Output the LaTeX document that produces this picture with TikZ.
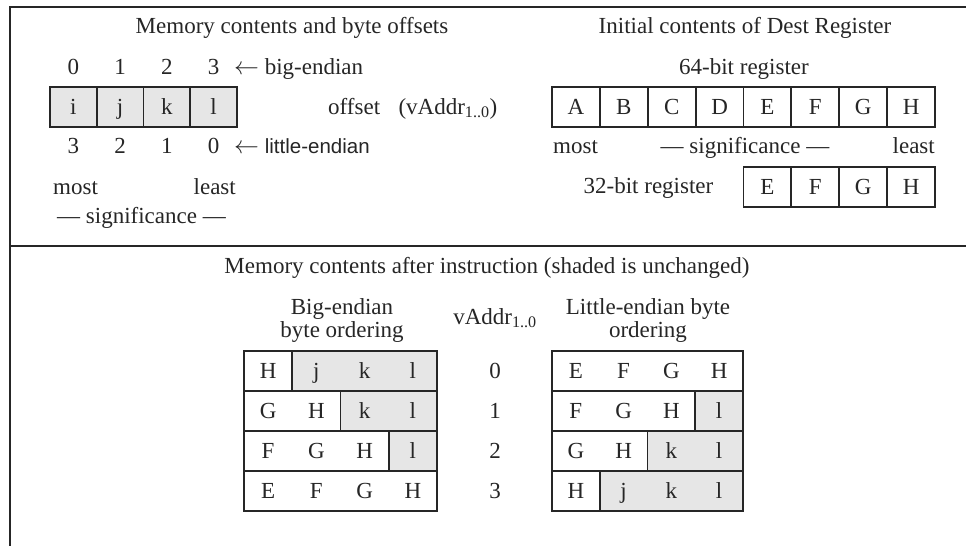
\documentclass[tikz,border=0pt]{standalone}
\usepackage{fontspec}
\setmainfont{Liberation Serif}
\newfontfamily\sansf{Liberation Sans}
\definecolor{linec}{HTML}{262626}
\definecolor{shadegray}{HTML}{E6E6E6}
\tikzset{
  txt/.style={inner sep=0pt, anchor=base},
  cellbox/.style={draw=linec, line width=1.8pt, minimum height=40pt, inner sep=0pt, text height=17.5pt, text depth=2.5pt},
  cellline/.style={draw=linec, line width=1.8pt},
  framel/.style={draw=linec, line width=2.4pt},
}
\begin{document}
\begin{tikzpicture}[x=1pt,y=-1pt, every node/.style={font=\fontsize{23}{24}\selectfont, text=linec}]
\useasboundingbox (0,0) rectangle (966,546);
\fill[white] (0,0) rectangle (966,546);
% frame
\draw[framel] (966,7) -- (10,7) -- (10,546);
\draw[framel] (10,246) -- (966,246);

% ---- top left
\node[txt] (t1) at (292,33) {Memory contents and byte offsets};
\foreach \d/\x in {0/73.4,1/120.1,2/166.9,3/213.6}
  \node[txt] (be\d) at (\x,74) {\d};
\node[txt, anchor=base west] (bel) at (234,74) {$\leftarrow$ big-endian};
\foreach \c/\i in {i/0,j/1,k/2,l/3}
  \node[cellbox, minimum width=46.75pt, fill=shadegray] (m\c) at ({50+46.75*(\i+0.5)},107) {\c};
\node[txt, anchor=base west] (off) at (328,114) {offset\hspace{0.8em}(vAddr\textsubscript{1..0})};
\foreach \d/\x in {3/73.4,2/120.1,1/166.9,0/213.6}
  \node[txt] (le\d) at (\x,153) {\d};
\node[txt, anchor=base west] (lel) at (234,153) {$\leftarrow$ {\sansf\fontsize{20.5}{22}\selectfont little-endian}};
\node[txt, anchor=base west] (mostL) at (53,194) {most};
\node[txt, anchor=base east] (leastL) at (236,194) {least};
\node[txt] (sigL) at (141.5,223) {--- significance ---};

% ---- top right
\node[txt] (t2) at (745,33) {Initial contents of Dest Register};
\node[txt] (r64) at (744,74) {64-bit register};
\foreach \c/\i in {A/0,B/1,C/2,D/3,E/4,F/5,G/6,H/7}
  \node[cellbox, minimum width=47.875pt, fill=white] (R\c) at ({552+47.875*(\i+0.5)},107) {\c};
\node[txt, anchor=base west] (mostR) at (553,153) {most};
\node[txt] (sigR) at (745,153) {--- significance ---};
\node[txt, anchor=base east] (leastR) at (935,153) {least};
\node[txt] (r32) at (648.5,193) {32-bit register};
\foreach \c/\i in {E/4,F/5,G/6,H/7}
  \node[cellbox, minimum width=47.875pt, fill=white] (S\c) at ({552+47.875*(\i+0.5)},187) {\c};

% ---- bottom
\node[txt] (t3) at (487,273) {Memory contents after instruction (shaded is unchanged)};
\node[txt] (bh1) at (342,314) {Big-endian};
\node[txt] (bh2) at (342,337) {byte ordering};
\node[txt] (va) at (495,324) {vAddr\textsubscript{1..0}};
\node[txt] (lh1) at (648,314) {Little-endian byte};
\node[txt] (lh2) at (648,337) {ordering};

% big-endian table
\foreach \r/\s/\a/\b/\c/\d in {0/1/H/j/k/l, 1/2/G/H/k/l, 2/3/F/G/H/l, 3/4/E/F/G/H}{
  \fill[white] (244,{351+40*\r}) rectangle (437,{391+40*\r});
  \fill[shadegray] ({244+48.25*\s},{351+40*\r}) rectangle (437,{391+40*\r});
  \draw[cellline] (244,{351+40*\r}) rectangle (437,{391+40*\r});
  \ifnum\s<4 \draw[cellline] ({244+48.25*\s},{351+40*\r}) -- ++(0,40); \fi
  \node[txt] (B\r-1) at ({244+48.25*0.5},{378+40*\r}) {\a};
  \node[txt] (B\r-2) at ({244+48.25*1.5},{378+40*\r}) {\b};
  \node[txt] (B\r-3) at ({244+48.25*2.5},{378+40*\r}) {\c};
  \node[txt] (B\r-4) at ({244+48.25*3.5},{378+40*\r}) {\d};
  \node[txt] (n\r) at (495,{378+40*\r}) {\r};
}
% little-endian table
\foreach \r/\s/\a/\b/\c/\d in {0/4/E/F/G/H, 1/3/F/G/H/l, 2/2/G/H/k/l, 3/1/H/j/k/l}{
  \fill[white] (552,{351+40*\r}) rectangle (743,{391+40*\r});
  \fill[shadegray] ({552+47.75*\s},{351+40*\r}) rectangle (743,{391+40*\r});
  \draw[cellline] (552,{351+40*\r}) rectangle (743,{391+40*\r});
  \ifnum\s<4 \draw[cellline] ({552+47.75*\s},{351+40*\r}) -- ++(0,40); \fi
  \node[txt] (L\r-1) at ({552+47.75*0.5},{378+40*\r}) {\a};
  \node[txt] (L\r-2) at ({552+47.75*1.5},{378+40*\r}) {\b};
  \node[txt] (L\r-3) at ({552+47.75*2.5},{378+40*\r}) {\c};
  \node[txt] (L\r-4) at ({552+47.75*3.5},{378+40*\r}) {\d};
}
\end{tikzpicture}
\end{document}
